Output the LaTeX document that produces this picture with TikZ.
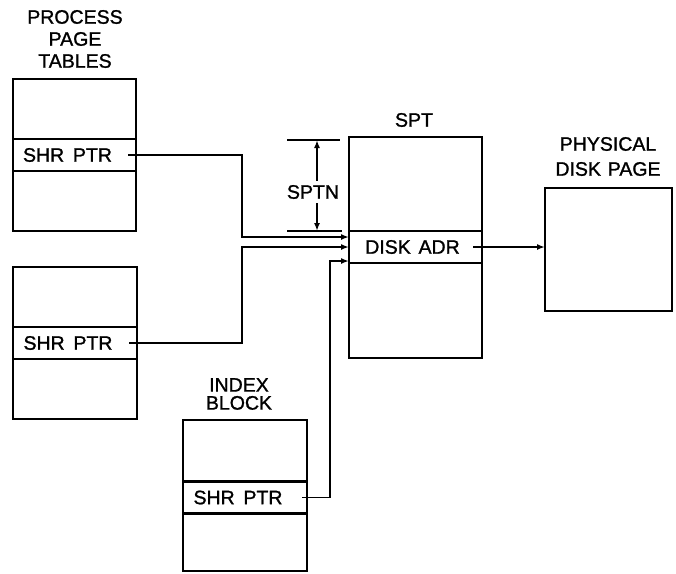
\documentclass[tikz,border=0pt]{standalone}
\usepackage{fontspec}
\setmainfont{Liberation Sans}
\newfontfamily\lblfont{Liberation Sans}[FakeBold=1.2]
\usetikzlibrary{arrows.meta}
\begin{document}
\begin{tikzpicture}[x=1pt,y=-1pt,
  frame/.style={draw, line width=2.9pt, rectangle, inner sep=0pt, outer sep=0pt},
  rowbox/.style={draw, line width=2.3pt, rectangle, inner sep=0pt, outer sep=0pt,
     minimum height=32pt, font=\lblfont\fontsize{19.5}{22}\selectfont},
  lbl/.style={font=\lblfont\fontsize{19.5}{22}\selectfont, align=center, inner sep=0pt},
  conn/.style={line width=1.9pt, -{Latex[length=8pt,width=6pt]}},
  tick/.style={line width=1.9pt},
  dimarrow/.style={line width=1.9pt, -{Latex[length=8pt,width=6pt]}}]
\useasboundingbox (0,0) rectangle (676,573);

% process page tables
\node[lbl] (ptlabel) at (75,39) {PROCESS\\PAGE\\TABLES};
\node[frame, minimum width=123pt, minimum height=152pt] (ppt1) at (74.5,155) {};
\node[rowbox, minimum width=123pt] (shr1) at (ppt1.center) {\hspace*{-14pt}SHR\hspace{0.45em}PTR};
\node[frame, minimum width=124pt, minimum height=152pt] (ppt2) at (75,343) {};
\node[rowbox, minimum width=124pt] (shr2) at (ppt2.center) {\hspace*{-14pt}SHR\hspace{0.45em}PTR};

% index block
\node[lbl] (iblabel) at (239,394) {INDEX\\[-4pt]BLOCK};
\node[frame, minimum width=124pt, minimum height=151pt] (ib) at (245,495.5) {};
\node[rowbox, minimum width=124pt] (shr3) at (245,497.5) {\hspace*{-14pt}SHR\hspace{0.45em}PTR};

% SPT
\node[lbl] (sptlabel) at (414,120) {SPT};
\node[frame, minimum width=133pt, minimum height=221pt] (spt) at (415.5,247.5) {};
\node[rowbox, minimum width=133pt] (dadr) at (415.5,247) {\hspace*{-6pt}DISK\hspace{0.4em}ADR};

% physical disk page
\node[lbl] (pdlabel) at (608,156.5) {PHYSICAL\\[3pt]DISK\hspace{0.35em}PAGE};
\node[frame, minimum width=127pt, minimum height=123pt] (phys) at (608.5,249.5) {};

% entry points on SPT
\coordinate (in1) at ([yshift=10pt]dadr.west);
\coordinate (in2) at (dadr.west);
\coordinate (in3) at ([yshift=-14pt]dadr.west);

% connectors
\draw[conn] ([xshift=-8pt]shr1.east) -| ([xshift=-107pt]in1) -- (in1);
\draw[conn] ([xshift=-8pt]shr2.east) -| ([xshift=-107pt]in2) -- (in2);
\draw[conn] ([xshift=-5pt]shr3.east) -| ([xshift=-19pt]in3) -- (in3);
\draw[conn] ([xshift=-9pt]dadr.east) -- (phys.west |- dadr.east);

% SPTN dimension
\coordinate (t1) at (287,140);
\coordinate (t2) at (340,140);
\coordinate (b1) at (287,231);
\coordinate (b2) at (342,231);
\coordinate (ta) at (317,140);
\coordinate (tb) at (317,231);
\draw[tick] (t1) -- (t2);
\draw[tick] (b1) -- (b2);
\node[lbl, inner sep=4pt] (sptn) at (313,192) {SPTN};
\draw[dimarrow] (sptn.north -| ta) -- (ta);
\draw[dimarrow] (sptn.south -| tb) -- (tb);
\end{tikzpicture}
\end{document}
